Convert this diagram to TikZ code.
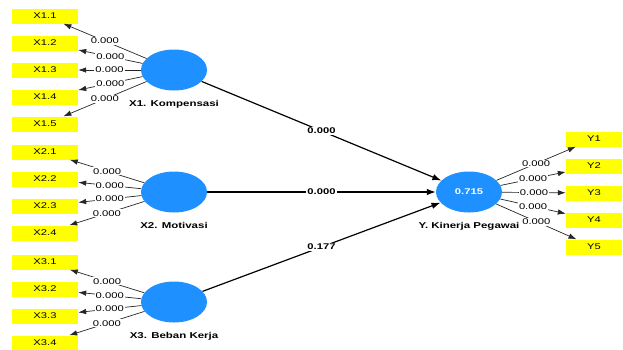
\documentclass[tikz,border=0pt]{standalone}
\usepackage{fontspec}
\setmainfont{Liberation Sans}[FakeStretch=1.35]
\usepackage{tikz}
\usetikzlibrary{positioning}
\usetikzlibrary{arrows.meta}
\usetikzlibrary{shapes.geometric}
\definecolor{lvblue}{RGB}{30,144,255}
\definecolor{mvyellow}{RGB}{255,255,0}

\begin{document}
\begin{tikzpicture}[x=1pt,y=-1pt,
    latent/.style={ellipse,fill=lvblue,minimum width=66pt,minimum height=41pt,inner sep=0pt},
    lvname/.style={font=\fontsize{8.5}{10}\selectfont\bfseries,inner sep=1pt},
    mvbox/.style={rectangle,fill=mvyellow,minimum height=15pt,inner sep=0pt,font=\fontsize{8.3}{9}\selectfont},
    load/.style={draw=black!85,line width=0.7pt,-{Latex[length=8pt,width=5.5pt]}},
    strpath/.style={draw=black,line width=1.2pt,-{Latex[length=9pt,width=6.5pt]}},
    coef/.style={fill=white,inner sep=1pt,font=\fontsize{8.3}{9}\selectfont},
    bcoef/.style={coef,font=\fontsize{8.3}{9}\selectfont\bfseries}]
        \useasboundingbox (0,0) rectangle (623,349);
        % latent variables
        \node[latent] (X1) at (174,70) {};
        \node[latent] (X2) at (174,192) {};
        \node[latent] (X3) at (174,302) {};
        \node[latent,font=\fontsize{8.3}{9}\selectfont\bfseries,text=white] (Y) at (469,192) {0.715};
        \node[lvname,below=8pt of X1] (X1name) {X1. Kompensasi};
        \node[lvname,below=8pt of X2] (X2name) {X2. Motivasi};
        \node[lvname,below=8pt of X3] (X3name) {X3. Beban Kerja};
        \node[lvname,below=8pt of Y] (Yname) {Y. Kinerja Pegawai};
        
        % indicators
        \foreach \i [evaluate={\ya=16+27*(\i-1);}] in {1,...,5}{
            \node[mvbox,minimum width=66pt] (X1-\i) at (45,\ya) {X1.\i};
            \draw[load] (X1) -- (X1-\i) node[coef,midway] {0.000};
          }
        \foreach \i [evaluate={\yb=152+27*(\i-1); \yc=262+27*(\i-1);}] in {1,...,4}{
            \node[mvbox,minimum width=66pt] (X2-\i) at (45,\yb) {X2.\i};
            \draw[load] (X2) -- (X2-\i) node[coef,midway] {0.000};
            \node[mvbox,minimum width=66pt] (X3-\i) at (45,\yc) {X3.\i};
            \draw[load] (X3) -- (X3-\i) node[coef,midway] {0.000};
          }
        \foreach \i [evaluate={\yd=139+27*(\i-1);}] in {1,...,5}{
            \node[mvbox,minimum width=56pt] (Y-\i) at (594,\yd) {Y\i};
            \draw[load] (Y) -- (Y-\i) node[coef,midway] {0.000};
          }
        
        % structural paths
        \draw[strpath] (X1) -- (Y) node[bcoef,midway] {0.000};
        \draw[strpath] (X2) -- (Y) node[bcoef,midway] {0.000};
        \draw[strpath] (X3) -- (Y) node[bcoef,midway] {0.177};
\end{tikzpicture}
\end{document}
